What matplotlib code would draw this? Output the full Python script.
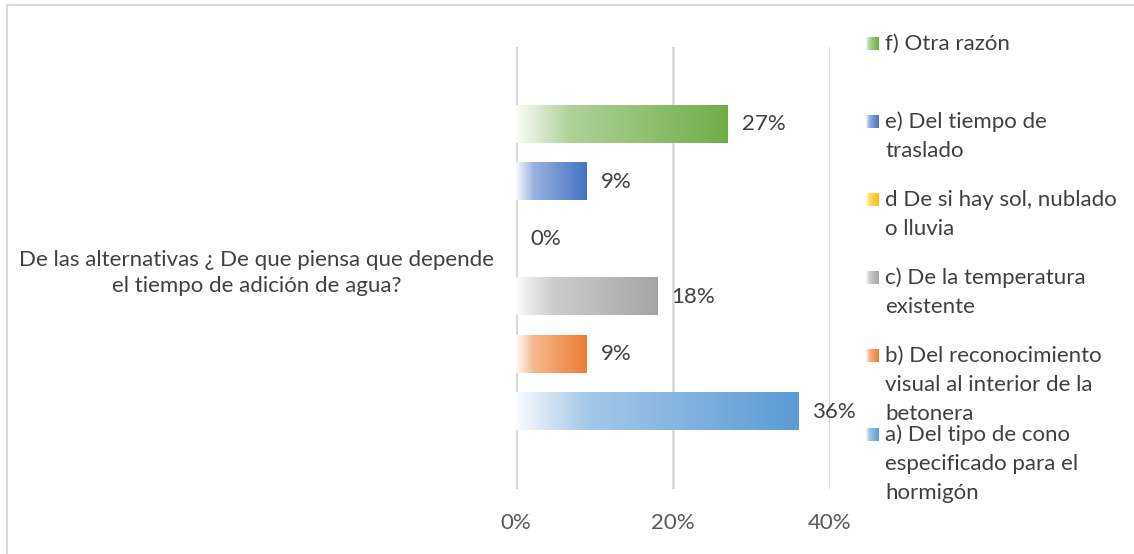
import matplotlib
matplotlib.use("Agg")
import matplotlib.pyplot as plt
import numpy as np
from matplotlib.colors import LinearSegmentedColormap, to_rgb
from matplotlib.patches import Rectangle

plt.rcParams['font.family'] = ['Lato', 'DejaVu Sans']

# survey answers, bottom to top
options = ['a) Del tipo de cono\nespecificado para el\nhormigón',
           'b) Del reconocimiento\nvisual al interior de la\nbetonera',
           'c) De la temperatura\nexistente',
           'd De si hay sol, nublado\no lluvia',
           'e) Del tiempo de\ntraslado',
           'f) Otra razón']
percent = [36, 9, 18, 0, 9, 27]
colors = ['#5b9bd5', '#ed7d31', '#a5a5a5', '#ffc000', '#4472c4', '#70ad47']
question = 'De las alternativas ¿ De que piensa que depende\nel tiempo de adición de agua?'
xticks = [0, 20, 40]

W, H = 1134, 554
fig = plt.figure(figsize=(W / 100, H / 100), dpi=100)
ax = fig.add_axes([516 / W, 1 - 489 / H, (830 - 516) / W, (489 - 47) / H])

text_col = '#404040'
fs = 16


def grad_cmap(c):
    rgb = np.array(to_rgb(c))
    white = np.ones(3)
    light = white + (rgb - white) * 0.55
    return LinearSegmentedColormap.from_list(
        'g', [(0, white + (rgb - white) * 0.04), (0.25, light), (1, rgb)])


grad = np.linspace(0, 1, 256).reshape(1, -1)
bar_h = 0.645
for i, (v, c) in enumerate(zip(percent, colors)):
    if v > 0:
        ax.imshow(grad, cmap=grad_cmap(c), aspect='auto', interpolation='bilinear',
                  extent=[0, v, i - bar_h / 2, i + bar_h / 2], zorder=2)
    ax.annotate(f'{v}%', (v, i), xytext=(10, 0), textcoords='offset points',
                va='center', ha='left', fontsize=fs, color=text_col)

ax.set_xlim(0, 40)
ax.set_ylim(-1.35, 6.35)
ax.set_xticks(xticks)
ax.set_xticklabels([f'{t}%' for t in xticks], color='#595959', fontsize=fs)
ax.set_yticks([2.5])
ax.set_yticklabels([question], fontsize=fs, color=text_col, multialignment='center')
for lab in ax.get_yticklabels():
    lab.set_linespacing(1.35)
ax.tick_params(axis='x', length=0, pad=17)
ax.tick_params(axis='y', length=0, pad=16)
for s in ax.spines.values():
    s.set_visible(False)
for t in xticks:
    ax.axvline(t, color='#d9d9d9', lw=3 if t == 0 else 2, zorder=1)

# legend drawn as boxes with text, top to bottom
leg_y = [44, 122, 200, 278, 356, 435]
line_h = 29
for k, y in enumerate(leg_y):
    idx = len(options) - 1 - k
    box = fig.add_axes([866 / W, 1 - (y + 6) / H, 13 / W, 13 / H])
    box.imshow(grad, cmap=grad_cmap(colors[idx]), aspect='auto', extent=[0, 1, 0, 1])
    box.set_xlim(0, 1)
    box.set_ylim(0, 1)
    box.axis('off')
    for j, line in enumerate(options[idx].split('\n')):
        fig.text(885 / W, 1 - (y + j * line_h) / H, line, fontsize=fs, color=text_col,
                 va='center', ha='left')

fig.patches.append(Rectangle((7 / W, -0.01), 1.1, 1 - 5 / H + 0.01, transform=fig.transFigure,
                             fill=False, edgecolor='#d9d9d9', lw=1.5))

fig.savefig('out.png', dpi=100)
